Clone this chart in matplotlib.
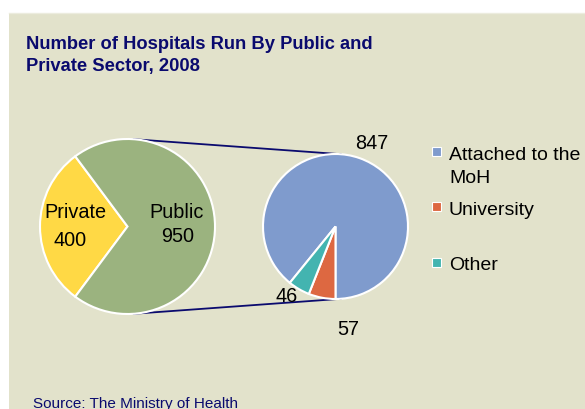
import numpy as np
import matplotlib.pyplot as plt
from matplotlib.patches import Rectangle

plt.rcParams['font.family'] = ['Liberation Sans', 'DejaVu Sans']

W, H = 585, 410

# main split
sector_names = ["Private", "Public"]
sector_values = [400, 950]
sector_colors = ["#FFD945", "#9BB37F"]

# breakdown of the public hospitals
public_names = ["Attached to the\nMoH", "University", "Other"]
public_values = [847, 57, 46]
public_colors = ["#7F9BCD", "#DD6841", "#43B4B0"]

title = "Number of Hospitals Run By Public and\nPrivate Sector, 2008"
source = "Source: The Ministry of Health"

navy = "#0A0A6E"
panel = "#E2E2CB"


def py(y):
    # pixel rows from top -> data y
    return H - y


fig = plt.figure(figsize=(W / 100, H / 100), dpi=100)
fig.patch.set_facecolor("white")
ax = fig.add_axes([0, 0, 1, 1])

ax.add_patch(Rectangle((9, 0), W, py(14), facecolor=panel, edgecolor="none", zorder=0))
ax.plot([9, W], [py(13.5), py(13.5)], color="#ECECDE", lw=1, zorder=0)

# left pie
c1, r1 = (127.5, py(227.5)), 87.5
start1 = 180 - 0.5 * 360 * sector_values[0] / sum(sector_values)
ax.pie(sector_values, colors=sector_colors, center=c1, radius=r1,
       startangle=start1, counterclock=True,
       wedgeprops=dict(edgecolor="white", linewidth=1.5))

# right pie (public breakdown)
c2, r2 = (335.5, py(227.5)), 72.5
start2 = 270 + 360 * public_values[0] / sum(public_values)
wedges, _ = ax.pie(public_values, colors=public_colors, center=c2, radius=r2,
                   startangle=start2, counterclock=False,
                   wedgeprops=dict(edgecolor="white", linewidth=1.5))

# connector lines between the pies
for a in (86, -86):
    t = np.radians(a)
    ax.plot([c1[0] + r1 * np.cos(t), c2[0] + r2 * np.cos(t)],
            [c1[1] + r1 * np.sin(t), c2[1] + r2 * np.sin(t)],
            color=navy, lw=1.3, zorder=0.5)

ax.set_xlim(0, W)
ax.set_ylim(0, H)
ax.set_aspect("equal")
ax.axis("off")

fs = 14.3
ax.text(75.5, py(218), sector_names[0], ha="center", va="baseline", fontsize=fs)
ax.text(70.5, py(246), str(sector_values[0]), ha="center", va="baseline", fontsize=fs)
ax.text(177, py(218), sector_names[1], ha="center", va="baseline", fontsize=fs)
ax.text(177.5, py(242), str(sector_values[1]), ha="center", va="baseline", fontsize=fs)

ax.text(372, py(149), str(public_values[0]), ha="center", va="baseline", fontsize=fs)
ax.text(348, py(335), str(public_values[1]), ha="center", va="baseline", fontsize=fs)
ax.text(287, py(302), str(public_values[2]), ha="center", va="baseline", fontsize=fs)

# legend, one text per line
leg_marker_y = [152.5, 207, 263]
leg_text_y = [160, 215, 270]
for name, col, my, ty in zip(public_names, public_colors, leg_marker_y, leg_text_y):
    ax.add_patch(Rectangle((432, py(my) - 4.5), 9, 9, facecolor=col,
                           edgecolor="white", lw=0.8))
    for i, line in enumerate(name.split("\n")):
        ax.text(449, py(ty + 23 * i), line, ha="left", va="baseline", fontsize=14)

for i, line in enumerate(title.split("\n")):
    ax.text(26, py(49 + 22.5 * i), line, ha="left", va="baseline", fontsize=13.2,
            fontweight="bold", color=navy)
ax.text(33, py(408.5), source, ha="left", va="baseline", fontsize=11, color=navy)

fig.savefig("out.png", dpi=100, facecolor="white")
